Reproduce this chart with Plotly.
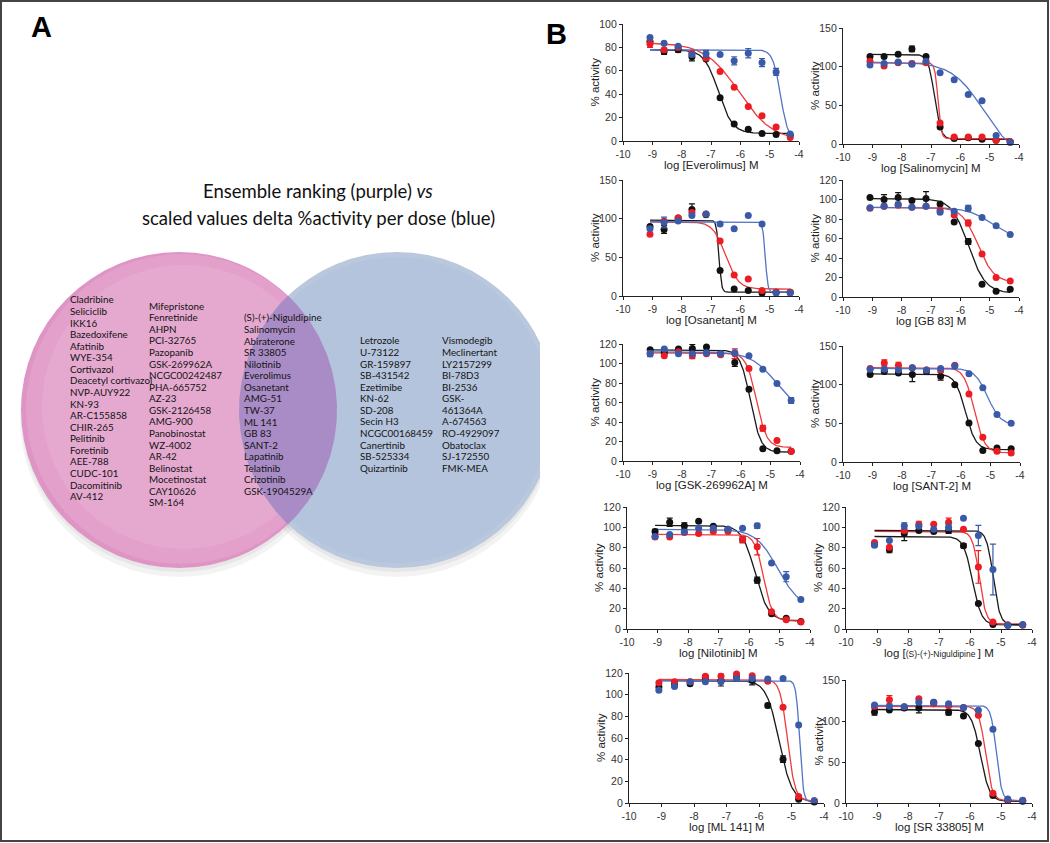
import numpy as np
import plotly.graph_objects as go

W, H = 1050, 843

# ---------------- panel A : compound lists ----------------
pink_col1 = ["Cladribine", "Seliciclib", "IKK16", "Bazedoxifene", "Afatinib", "WYE-354",
             "Cortivazol", "Deacetyl cortivazol", "NVP-AUY922", "KN-93", "AR-C155858",
             "CHIR-265", "Pelitinib", "Foretinib", "AEE-788", "CUDC-101", "Dacomitinib", "AV-412"]
pink_col2 = ["Mifepristone", "Fenretinide", "AHPN", "PCI-32765", "Pazopanib", "GSK-269962A",
             "NCGC00242487", "PHA-665752", "AZ-23", "GSK-2126458", "AMG-900", "Panobinostat",
             "WZ-4002", "AR-42", "Belinostat", "Mocetinostat", "CAY10626", "SM-164"]
overlap_col = ["(S)-(+)-Niguldipine", "Salinomycin", "Abiraterone", "SR 33805", "Nilotinib",
               "Everolimus", "Osanetant", "AMG-51", "TW-37", "ML 141", "GB 83", "SANT-2",
               "Lapatinib", "Telatinib", "Crizotinib", "GSK-1904529A"]
blue_col1 = ["Letrozole", "U-73122", "GR-159897", "SB-431542", "Ezetimibe", "KN-62", "SD-208",
             "Secin H3", "NCGC00168459", "Canertinib", "SB-525334", "Quizartinib"]
blue_col2 = ["Vismodegib", "Meclinertant", "LY2157299", "BI-78D3", "BI-2536", "GSK-",
             "461364A", "A-674563", "RO-4929097", "Obatoclax", "SJ-172550", "FMK-MEA"]

# ---------------- panel B : dose response data ----------------
log_dose = [-9.08, -8.60, -8.12, -7.65, -7.17, -6.69, -6.21, -5.73, -5.26, -4.78, -4.30]
x_ticks = [-10, -9, -8, -7, -6, -5, -4]

# fit = [top, bottom, logIC50, hill]
everolimus_black = [85, 76.5, 78, 72, 70, 37, 14.5, 10, 6.5, 5.5, 5]
everolimus_black_err = [0, 2.5, 2, 3.5, 0, 0, 0, 0, 0, 0, 0]
everolimus_red = [83, 78, 80, 75, 71, 59.5, 46, 29.5, 21.5, 12, 3]
everolimus_red_err = [3, 0, 0, 0, 2, 0, 0, 0, 0, 0, 0]
everolimus_blue = [88.5, 83.5, 81, 74, 74.5, 74, 68.5, 75, 67, 59, 6]
everolimus_blue_err = [0, 0, 0, 0, 3, 0, 3.5, 4, 3.5, 3, 0]
everolimus_fit_black = [78, 6.5, -6.75, 1.8]
everolimus_fit_red = [84, 0, -6.05, 0.75]
everolimus_fit_blue = [78, 0, -4.63, 3.3]

salinomycin_black = [113, 113, 116, 123, 113, 22, 7, 8, 6, 5, 3]
salinomycin_black_err = [0, 0, 0, 3.5, 0, 0, 0, 0, 0, 0, 0]
salinomycin_red = [107, 101, 105, 104, 105, 27, 9, 9, 9, 5, 3]
salinomycin_red_err = [0, 0, 0, 3, 0, 0, 0, 0, 0, 0, 0]
salinomycin_blue = [102, 104, 106, 103, 107, 92, 83, 64, 56, 11, 2]
salinomycin_blue_err = [0, 0, 0, 0, 0, 0, 0, 0, 0, 0, 0]
salinomycin_fit_black = [116, 6, -6.88, 4]
salinomycin_fit_red = [105, 7, -6.76, 8]
salinomycin_fit_blue = [106, -20, -5.2, 0.8]

osanetant_black = [90, 86, 101, 112, 105, 33, 9, 7, 4, 5, 5]
osanetant_black_err = [0, 5, 0, 7, 0, 0, 0, 0, 0, 0, 0]
osanetant_red = [80, 97, 101, 108, 106, 71, 27, 22, 7, 5, 5]
osanetant_red_err = [0, 0, 0, 0, 0, 0, 0, 0, 0, 0, 0]
osanetant_blue = [87, 95, 97, 104, 106, 93, 87, 104, 93, 4, 4]
osanetant_blue_err = [0, 7, 0, 0, 0, 0, 0, 0, 0, 0, 0]
osanetant_fit_black = [98, 5, -6.73, 10]
osanetant_fit_red = [96, 9, -6.5, 2]
osanetant_fit_blue = [96, 5, -5.15, 10]

gb83_black = [102, 100, 102, 99, 101, 95.5, 77, 57, 13, 6, 8]
gb83_black_err = [0, 5, 5, 0, 7, 0, 0, 3, 0, 0, 0]
gb83_red = [91, 93, 94, 92, 93, 89, 84, 76, 44, 20, 16.5]
gb83_red_err = [0, 0, 0, 0, 0, 0, 0, 3, 0, 0, 0]
gb83_blue = [91.5, 93, 95, 92, 93, 87, 88, 91, 81.5, 73, 64]
gb83_blue_err = [0, 0, 0, 0, 0, 0, 0, 3, 0, 0, 0]
gb83_fit_black = [101, 4, -5.72, 1.5]
gb83_fit_red = [92, 15, -5.4, 1.6]
gb83_fit_blue = [92, 58, -4.9, 1]

gsk_black = [114, 111, 115, 115.5, 117, 110, 101, 73.5, 12.5, 10.5, 10]
gsk_black_err = [0, 0, 0, 4, 0, 0, 4, 0, 0, 0, 0]
gsk_red = [110, 108, 112, 108, 110, 109, 110, 95, 33.5, 21, 10]
gsk_red_err = [0, 0, 0, 3, 0, 0, 5, 0, 3, 0, 0]
gsk_blue = [110, 115, 110, 110, 111, 110, 111, 108, 94, 79.5, 62]
gsk_blue_err = [3, 0, 0, 0, 0, 0, 0, 0, 0, 0, 3]
gsk_fit_black = [114, 9, -5.68, 2.5]
gsk_fit_red = [111, 14, -5.48, 2.5]
gsk_fit_blue = [112, 48, -4.8, 1]

sant2_black = [113, 117, 115, 113, 117, 111, 100, 50.5, 15, 18, 17]
sant2_black_err = [0, 0, 0, 9, 0, 5, 0, 0, 0, 0, 0]
sant2_red = [121, 128, 125, 122, 119, 119, 125, 88, 32, 14, 11.5]
sant2_red_err = [0, 4, 4, 0, 0, 0, 0, 0, 0, 0, 0]
sant2_blue = [120, 120, 119, 122, 119, 121, 124, 114, 96, 61.5, 50]
sant2_blue_err = [0, 0, 0, 0, 0, 0, 0, 0, 0, 0, 0]
sant2_fit_black = [114, 16, -5.85, 2.5]
sant2_fit_red = [122, 12, -5.55, 2.5]
sant2_fit_blue = [121, 48, -5.1, 2]

nilotinib_black = [96, 105, 101.5, 106, 101, 98, 88, 48, 15, 10.5, 7.5]
nilotinib_black_err = [2, 4, 3, 0, 0, 0, 3, 3, 0, 0, 0]
nilotinib_red = [90.5, 90.5, 95, 94, 96, 96, 88, 81, 17, 9, 7]
nilotinib_red_err = [0, 0, 0, 0, 0, 0, 3, 8, 0, 0, 0]
nilotinib_blue = [91, 93, 95.5, 99, 99, 98, 99, 101.5, 65, 51.5, 29]
nilotinib_blue_err = [0, 0, 0, 0, 0, 0, 0, 2.5, 0, 5, 0]
nilotinib_fit_black = [102, 8, -5.8, 2]
nilotinib_fit_red = [93, 8, -5.52, 3]
nilotinib_fit_blue = [98, 20, -5.05, 1.2]

niguldipine_black = [83, 78, 94, 97, 96, 97, 82, 25, 4.5, 4, 4]
niguldipine_black_err = [0, 3, 7, 0, 0, 3, 2, 0, 0, 0, 0]
niguldipine_red = [85, 80.5, 97, 103, 103, 105, 98, 61, 7, 4, 4]
niguldipine_red_err = [0, 0, 0, 3, 0, 4, 0, 16, 0, 0, 0]
niguldipine_blue = [82.5, 87, 101.5, 101, 98, 100, 109, 92, 58.5, 3.5, 4.5]
niguldipine_blue_err = [0, 0, 3, 0, 0, 3, 0, 10, 25, 0, 0]
niguldipine_fit_black = [91, 4, -5.92, 3]
niguldipine_fit_red = [96, 5, -5.7, 4]
niguldipine_fit_blue = [97, 4, -5.25, 4]

ml141_black = [107, 110, 110, 116, 113, 116, 113, 90, 40.5, 3.5, 1]
ml141_black_err = [3, 3, 0, 2, 5, 0, 4, 2, 3, 0, 0]
ml141_red = [111, 112, 112, 117, 117, 119, 117.5, 112.5, 88.5, 6, 2]
ml141_red_err = [0, 0, 0, 0, 2, 0, 0, 0, 0, 0, 0]
ml141_blue = [104, 107.5, 112, 112, 112, 115, 115, 114.5, 115, 72, 2]
ml141_blue_err = [0, 0, 0, 0, 0, 0, 0, 0, 0, 0, 0]
ml141_fit_black = [113, 1, -5.38, 2.2]
ml141_fit_red = [114, 2, -5.12, 3.8]
ml141_fit_blue = [113, 1, -4.75, 8]

sr33805_black = [111, 113.5, 116, 116, 123, 110.5, 106, 72.5, 9, 3, 2]
sr33805_black_err = [4, 0, 0, 6, 0, 3, 0, 0, 0, 0, 0]
sr33805_red = [118, 126, 117.5, 127, 121, 118.5, 116.5, 107, 12, 4, 3]
sr33805_red_err = [0, 5, 0, 0, 0, 0, 0, 0, 0, 0, 0]
sr33805_blue = [119.5, 118, 117.5, 123, 122.5, 121, 116.5, 113, 90, 5, 3.5]
sr33805_blue_err = [0, 0, 0, 0, 0, 0, 0, 0, 0, 0, 0]
sr33805_fit_black = [114, 2, -5.66, 3]
sr33805_fit_red = [118, 3, -5.5, 4]
sr33805_fit_blue = [119, 3, -5.15, 5]

BLACK, RED, BLUE = "#111111", "#ec1c24", "#3a5aa8"
BLACK_L, RED_L, BLUE_L = "#1a1a1a", "#ef3b3b", "#5274c6"

# title, y max, tick step, pixel box (left, right, top, bottom), series, blue curve colour
plots = [
    ("log [Everolimus] M", 100, 20, (623, 799, 24, 141),
     (everolimus_black, everolimus_black_err, everolimus_fit_black),
     (everolimus_red, everolimus_red_err, everolimus_fit_red),
     (everolimus_blue, everolimus_blue_err, everolimus_fit_blue), BLUE_L),
    ("log [Salinomycin] M", 150, 50, (843, 1019, 28, 144),
     (salinomycin_black, salinomycin_black_err, salinomycin_fit_black),
     (salinomycin_red, salinomycin_red_err, salinomycin_fit_red),
     (salinomycin_blue, salinomycin_blue_err, salinomycin_fit_blue), BLUE_L),
    ("log [Osanetant] M", 150, 50, (623, 799, 180, 296),
     (osanetant_black, osanetant_black_err, osanetant_fit_black),
     (osanetant_red, osanetant_red_err, osanetant_fit_red),
     (osanetant_blue, osanetant_blue_err, osanetant_fit_blue), BLUE_L),
    ("log [GB 83] M", 120, 20, (843, 1019, 180, 297),
     (gb83_black, gb83_black_err, gb83_fit_black),
     (gb83_red, gb83_red_err, gb83_fit_red),
     (gb83_blue, gb83_blue_err, gb83_fit_blue), BLUE_L),
    ("log [GSK-269962A] M", 120, 20, (623, 800, 344, 461),
     (gsk_black, gsk_black_err, gsk_fit_black),
     (gsk_red, gsk_red_err, gsk_fit_red),
     (gsk_blue, gsk_blue_err, gsk_fit_blue), BLUE_L),
    ("log [SANT-2] M", 150, 50, (843, 1020, 346, 462),
     (sant2_black, sant2_black_err, sant2_fit_black),
     (sant2_red, sant2_red_err, sant2_fit_red),
     (sant2_blue, sant2_blue_err, sant2_fit_blue), BLUE_L),
    ("log [Nilotinib] M", 120, 20, (627, 810, 507, 629),
     (nilotinib_black, nilotinib_black_err, nilotinib_fit_black),
     (nilotinib_red, nilotinib_red_err, nilotinib_fit_red),
     (nilotinib_blue, nilotinib_blue_err, nilotinib_fit_blue), BLUE_L),
    ('log [<span style="font-size:8.5px">(S)-(+)-Niguldipine </span>] M', 120, 20, (846, 1032, 507, 629),
     (niguldipine_black, niguldipine_black_err, niguldipine_fit_black),
     (niguldipine_red, niguldipine_red_err, niguldipine_fit_red),
     (niguldipine_blue, niguldipine_blue_err, niguldipine_fit_blue), BLACK_L),
    ("log [ML 141] M", 120, 20, (629, 824, 673, 803),
     (ml141_black, ml141_black_err, ml141_fit_black),
     (ml141_red, ml141_red_err, ml141_fit_red),
     (ml141_blue, ml141_blue_err, ml141_fit_blue), BLUE_L),
    ("log [SR 33805] M", 150, 50, (846, 1032, 680, 803),
     (sr33805_black, sr33805_black_err, sr33805_fit_black),
     (sr33805_red, sr33805_red_err, sr33805_fit_red),
     (sr33805_blue, sr33805_blue_err, sr33805_fit_blue), BLUE_L),
]


def four_pl(fit, n=300):
    top, bottom, logic50, hill = fit
    xs = np.linspace(log_dose[0], log_dose[-1], n)
    return xs, bottom + (top - bottom) / (1 + 10 ** ((xs - logic50) * hill))


fig = go.Figure()
annotations = []
axis_font = dict(family="Liberation Sans, Arial", size=10.5, color="#333")
title_font = dict(family="Liberation Sans, Arial", size=11.5, color="#222")

for i, (xtitle, ymax, step, box, s_black, s_red, s_blue, blue_curve) in enumerate(plots, start=1):
    xa, ya = ("x", "y") if i == 1 else (f"x{i}", f"y{i}")
    left, right, top, bottom = box
    series = [(s_black, BLACK, BLACK_L), (s_red, RED, RED_L), (s_blue, BLUE, blue_curve)]
    for (vals, err, fit), mcol, lcol in series:
        cx, cy = four_pl(fit)
        fig.add_trace(go.Scatter(x=cx, y=cy, mode="lines", line=dict(color=lcol, width=1.3),
                                 xaxis=xa, yaxis=ya, hoverinfo="skip", showlegend=False))
    for (vals, err, fit), mcol, lcol in series:
        fig.add_trace(go.Scatter(
            x=log_dose, y=vals, mode="markers", xaxis=xa, yaxis=ya, showlegend=False,
            marker=dict(color=mcol, size=7), cliponaxis=False,
            error_y=dict(type="data", array=err, visible=True, color=mcol, thickness=1.2, width=3)))

    common = dict(showgrid=False, zeroline=False, showline=True, linecolor="#222", linewidth=1.3,
                  ticks="outside", ticklen=3, tickwidth=1.2, tickcolor="#222", tickfont=axis_font)
    fig.layout[xa.replace("x", "xaxis")] = dict(
        domain=[left / W, right / W], range=[-10, -4], anchor=ya,
        tickvals=x_ticks, ticktext=[str(t) for t in x_ticks], **common)
    yticks = list(range(0, ymax + 1, step))
    fig.layout[ya.replace("y", "yaxis")] = dict(
        domain=[1 - bottom / H, 1 - top / H], range=[0, ymax], anchor=xa,
        tickvals=yticks, ticktext=[str(t) for t in yticks], **common)

    annotations.append(dict(text=xtitle, x=(left + right) / 2 / W, y=1 - (bottom + 24) / H,
                            xref="paper", yref="paper", showarrow=False, font=title_font,
                            xanchor="center", yanchor="middle"))
    annotations.append(dict(text="% activity", x=(left - 28) / W, y=1 - (top + bottom) / 2 / H,
                            xref="paper", yref="paper", showarrow=False, font=title_font,
                            textangle=-90, xanchor="center", yanchor="middle"))

# ---------------- panel A : Venn diagram ----------------
pink_c, blue_c, R = (179, 410), (397, 410), 158


def lens(c1, c2, r, n=90):
    t = np.arccos((c2[0] - c1[0]) / 2 / r)
    a1 = np.linspace(-t, t, n)
    a2 = np.linspace(np.pi - t, np.pi + t, n)
    xs = np.concatenate([c1[0] + r * np.cos(a1), c2[0] + r * np.cos(a2)])
    ys = np.concatenate([c1[1] + r * np.sin(a1), c2[1] + r * np.sin(a2)])
    return xs, ys


def circle(c, r, fill, dx=0, dy=0, dr=0):
    return dict(type="circle", xref="x11", yref="y11", layer="below", line=dict(width=0),
                x0=c[0] - r - dr + dx, x1=c[0] + r + dr + dx,
                y0=c[1] - r - dr + dy, y1=c[1] + r + dr + dy, fillcolor=fill)


shapes = [
    circle(pink_c, R, "rgba(90,90,90,0.07)", dy=8, dr=1),
    circle(blue_c, R, "rgba(90,90,90,0.07)", dy=8, dr=1),
    circle(pink_c, R, "rgba(90,90,90,0.07)", dy=4),
    circle(blue_c, R, "rgba(90,90,90,0.07)", dy=4),
    circle(pink_c, R, "#de94c5"),
    circle(pink_c, R, "#e2a0ca", dx=2, dy=-1, dr=-3),
    circle(pink_c, R, "#e5a9cf", dx=5, dy=-3, dr=-16),
    circle(blue_c, R, "#bac8de"),
    circle(blue_c, R, "#b4c4dc", dr=-5),
]

lx, ly = lens(pink_c, blue_c, R)
fig.add_trace(go.Scatter(x=lx, y=ly, mode="lines", fill="toself", fillcolor="#a98cc6",
                         line=dict(width=0), xaxis="x11", yaxis="y11", hoverinfo="skip",
                         showlegend=False))

venn_font = dict(family="Lato, Carlito", size=9.8, color="#141414")
columns = [(pink_col1, 70, 301), (pink_col2, 149, 307.3), (overlap_col, 244, 319),
           (blue_col1, 360, 342), (blue_col2, 442, 342)]
for names, x0, y0 in columns:
    fig.add_trace(go.Scatter(x=[x0] * len(names), y=[y0 + k * 11.57 for k in range(len(names))],
                             mode="text", text=names, textposition="middle right",
                             textfont=venn_font, xaxis="x11", yaxis="y11", hoverinfo="skip",
                             showlegend=False))

fig.layout["xaxis11"] = dict(domain=[0, 540 / W], range=[0, 540], visible=False, fixedrange=True)
fig.layout["yaxis11"] = dict(domain=[0, 1], range=[H, 0], visible=False, fixedrange=True,
                             anchor="x11")

annotations += [
    dict(text="Ensemble ranking (purple) <i>vs</i>", x=318 / W, y=1 - 191 / H),
    dict(text="scaled values delta %activity per dose (blue)", x=318 / W, y=1 - 218 / H),
]
for a in annotations[-2:]:
    a.update(xref="paper", yref="paper", showarrow=False, xanchor="center", yanchor="middle",
             font=dict(family="Lato, Carlito", size=18.5, color="#111"))

annotations += [
    dict(text="<b>A</b>", x=41 / W, y=1 - 27 / H),
    dict(text="<b>B</b>", x=556 / W, y=1 - 34 / H),
]
for a in annotations[-2:]:
    a.update(xref="paper", yref="paper", showarrow=False, xanchor="center", yanchor="middle",
             font=dict(family="Liberation Sans, Arial", size=29, color="#000"))

shapes.append(dict(type="rect", xref="paper", yref="paper", x0=1 / W, x1=1048 / W,
                   y0=1 - 841 / H, y1=1 - 1 / H, line=dict(color="#444", width=2)))

fig.update_layout(width=W, height=H, margin=dict(l=0, r=0, t=0, b=0), template="none",
                  paper_bgcolor="white", plot_bgcolor="rgba(0,0,0,0)", showlegend=False,
                  shapes=shapes, annotations=annotations)

# drop the browser's default 8px body margin so the figure fills the window exactly
fig.write_html("out.html", config={"displayModeBar": False},
               post_script="document.body.style.margin='0';")
